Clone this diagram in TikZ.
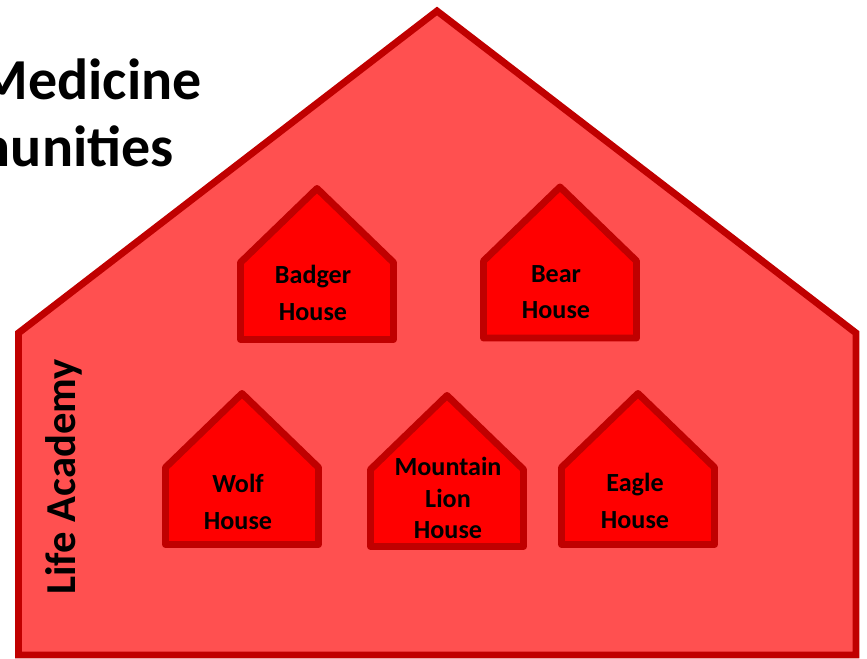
\documentclass[tikz,border=0pt]{standalone}
\usepackage{fontspec}
\setmainfont{Carlito}
\definecolor{bigfill}{HTML}{FF5050}
\definecolor{edgered}{HTML}{C00000}
\definecolor{hutfill}{HTML}{FF0000}
\tikzset{
  bighouse/.style={fill=bigfill,draw=edgered,line width=5.2pt,line join=miter},
  hutshape/.style={fill=hutfill,draw=edgered,line width=5.2pt,line join=round},
  huttext/.style={font=\bfseries\fontsize{19.6pt}{27.5pt}\selectfont,align=center,inner sep=0pt,text=black},
  hutlion/.style={huttext,font=\bfseries\fontsize{19.6pt}{23.5pt}\selectfont},
  bigtext/.style={font=\bfseries\fontsize{43.5pt}{50pt}\selectfont,inner sep=0pt,text=black}
}
\newcommand\hut[2]{%
  \draw[hutshape] (#1,#2+151) -- (#1,#2+74) -- (#1+76.5,#2) -- (#1+153,#2+74) -- (#1+153,#2+151) -- cycle;}
\begin{document}
\begin{tikzpicture}[x=0.75pt,y=-0.75pt]
\useasboundingbox (0,0) rectangle (867,659);
\clip (0,0) rectangle (867,659);
% title fragments
\node[bigtext,anchor=base east] (title1) at (202,100) {Medicine};
\node[bigtext,anchor=base east] (title2) at (174,167) {munities};
% big house
\draw[bighouse] (18.5,655) -- (18.5,333) -- (437,11) -- (856,333) -- (856,655) -- cycle;
\node[font=\bfseries\fontsize{32pt}{36pt}\selectfont,rotate=90,anchor=base,inner sep=0pt] (life) at (75,477) {Life Academy};
% small houses
\hut{240.5}{188.5}
\hut{483.5}{187}
\hut{165.5}{393.5}
\hut{370.5}{395.5}
\hut{561.5}{393.5}
\node[huttext] (badger) at (313,293) {Badger\\House};
\node[huttext] (bear) at (556,292) {Bear\\House};
\node[huttext] (wolf) at (238,502) {Wolf\\House};
\node[hutlion] (lion) at (448,498) {Mountain\\Lion\\House};
\node[huttext] (eagle) at (635,501) {Eagle\\House};
\end{tikzpicture}
\end{document}
